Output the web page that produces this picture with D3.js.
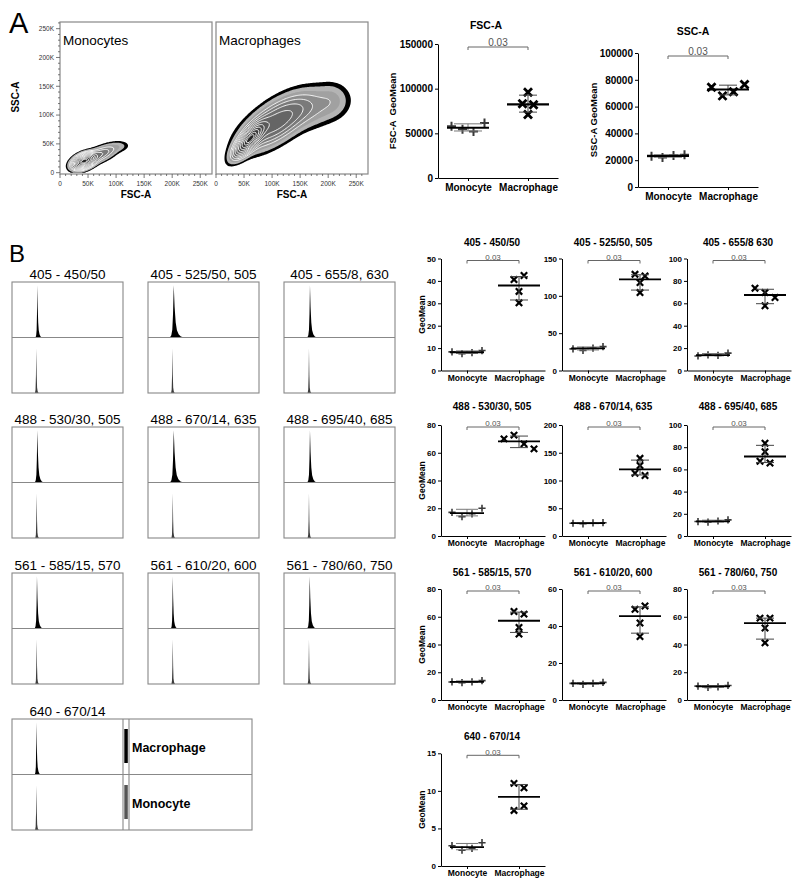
<!DOCTYPE html>
<html>
<head>
<meta charset="utf-8">
<script src="https://cdn.jsdelivr.net/npm/d3@7"></script>
<style>
body { margin: 0; background: #fff; }
svg { font-family: "Liberation Sans", Arial, sans-serif; }
</style>
</head>
<body>
<script>
(function(){

// ---------- data ----------
var groups = ["Monocyte", "Macrophage"];
var pValue = "0.03";

// panel A: geometric means of FSC / SSC, 4 donors per group
var fscMono  = [58000, 54500, 52000, 61500];
var fscMacro = [83000, 96000, 71000, 82000];
var sscMono  = [23000, 22000, 23500, 24000];
var sscMacro = [74500, 68000, 71000, 76500];

// panel A: density clusters
// [FSC (K), SSC (K), sd FSC, sd SSC, correlation, weight]
var monoClusters = [
    [43, 20, 10.5, 7, 0.4, 1],
    [72, 32, 16, 9, 0.6, 0.12],
    [105, 45, 12, 6, 0.2, 0.018]
];
var macroClusters = [
    [60, 58, 14, 15, 0.75, 1],
    [105, 86, 32, 24, 0.65, 0.25],
    [165, 112, 35, 20, 0.3, 0.06],
    [208, 126, 16, 17, 0, 0.022]
];
var contourLevels = [0.008, 0.016, 0.03, 0.05, 0.08, 0.12, 0.18, 0.26, 0.36, 0.48, 0.62, 0.78, 0.9];
var flowTicks = [0, 50000, 100000, 150000, 200000, 250000];

// panel B: channels
var histTitles = ["405 - 450/50", "405 - 525/50, 505", "405 - 655/8, 630",
                  "488 - 530/30, 505", "488 - 670/14, 635", "488 - 695/40, 685",
                  "561 - 585/15, 570", "561 - 610/20, 600", "561 - 780/60, 750",
                  "640 - 670/14"];
var dotTitles  = ["405 - 450/50", "405 - 525/50, 505", "405 - 655/8 630",
                  "488 - 530/30, 505", "488 - 670/14, 635", "488 - 695/40, 685",
                  "561 - 585/15, 570", "561 - 610/20, 600", "561 - 780/60, 750",
                  "640 - 670/14"];
var yMax  = [50, 150, 100, 80, 200, 100, 80, 60, 80, 15];
var yStep = [10, 50, 20, 20, 50, 20, 20, 20, 20, 5];

var monoGeo = [
    [8.3, 7.5, 8.0, 8.9],
    [29, 27, 30, 32],
    [13, 14, 13.5, 15.5],
    [17, 14, 16, 20],
    [23, 22, 23.5, 24],
    [13, 12.5, 13.5, 14.5],
    [13, 12.5, 13, 14],
    [9, 8.5, 9, 9.5],
    [10, 9, 9.5, 10.5],
    [2.7, 2.1, 2.35, 3.1]
];
var macroGeo = [
    [40.6, 42.4, 35.3, 30.2],
    [128.8, 126.5, 117.7, 104.4],
    [73.5, 69.6, 65.2, 57.8],
    [70, 72.7, 66.4, 62.8],
    [127, 140, 113, 109],
    [83.6, 75.9, 67.3, 65.8],
    [63.8, 61.9, 52.3, 47.5],
    [49, 50.8, 41.6, 34.3],
    [59, 59, 51.9, 41.2],
    [7.4, 8.0, 11, 10.4]
];

// panel B histograms: peak channel (% of axis) and peak spread
var macroPeak   = [22.8, 23.2, 23.4, 22.8, 23.2, 23.4, 22.5, 22.3, 23.2, 22.0];
var monoPeak    = [21.9, 22.0, 22.5, 22.2, 22.3, 22.5, 22.2, 22.3, 22.5, 22.0];
var macroSpread = [1.0, 2.2, 1.5, 1.4, 2.1, 1.5, 1.3, 1.0, 1.4, 0.9];
// normalised histogram profiles (% of mode)
var macroShapeOff = [-1.6, -1.0, -0.6, -0.3, 0, 0.35, 0.8, 1.3, 2.0, 2.9, 4.2];
var macroShapeH   = [0, 0.04, 0.14, 0.42, 0.94, 0.55, 0.27, 0.13, 0.06, 0.02, 0];
var monoShapeOff  = [-1.2, -0.7, -0.35, 0, 0.35, 0.7, 1.2, 2.0];
var monoShapeH    = [0, 0.06, 0.3, 0.8, 0.33, 0.1, 0.03, 0];


var FONT = "'Liberation Sans', Arial, sans-serif";

var svg = d3.select("body")
    .append("svg")
    .attr("width", 800)
    .attr("height", 886);

// panel letters
svg.append("text").attr("x", 9).attr("y", 33).attr("font-size", 29).text("A");
svg.append("text").attr("x", 9).attr("y", 262).attr("font-size", 24).text("B");


// ---------- panel A : contour plots ----------
function density(clusters, fx, fy){
    var s = 0;
    clusters.forEach(function(c){
        var dx = (fx - c[0]) / c[2], dy = (fy - c[1]) / c[3], r = c[4];
        var q = (dx * dx - 2 * r * dx * dy + dy * dy) / (1 - r * r);
        s += c[5] * Math.exp(-q / 2);
    });
    return s;
}

function flowPlot(x0, name, clusters, showY){
    var g = svg.append("g");
    var xS = d3.scaleLinear().domain([0, 271000]).range([x0, x0 + 152]);
    var yS = d3.scaleLinear().domain([-2300, 261600]).range([174, 22]);

    // density grid, 2K per cell
    var step = 2000, n = 136, m = 132;
    var grid = new Array(n * m);
    for (var j = 0; j < m; j++){
        for (var i = 0; i < n; i++){
            grid[i + j * n] = density(clusters, (i + 0.5) * step / 1000, (j + 0.5) * step / 1000);
        }
    }
    var peak = d3.max(grid);
    var bands = d3.contours()
        .size([n, m])
        .thresholds(contourLevels.map(function(l){ return l * peak; }))(grid);

    var proj = d3.geoTransform({
        point: function(gx, gy){ this.stream.point(xS(gx * step), yS(gy * step)); }
    });
    var path = d3.geoPath(proj);
    var shade = d3.scaleLinear()
        .domain([1, 4, contourLevels.length - 1])
        .range(["#b4b4b4", "#7a7a7a", "#242424"]);

    g.selectAll(".band")
        .data(bands)
        .enter()
        .append("path")
        .attr("class", "band")
        .attr("d", path)
        .attr("fill", function(d, k){ return k === 0 ? "#000" : shade(k); })
        .attr("stroke", function(d, k){ return k >= 3 ? "#fff" : "none"; })
        .attr("stroke-width", 0.9);

    // frame
    g.append("rect")
        .attr("x", x0).attr("y", 22)
        .attr("width", 152).attr("height", 152)
        .attr("fill", "none").attr("stroke", "#888").attr("stroke-width", 1.2);

    // x ticks (minor every 10K)
    var minor = d3.range(0, 260001, 10000);
    g.selectAll(".xt")
        .data(minor)
        .enter()
        .append("line")
        .attr("x1", function(d){ return xS(d); })
        .attr("x2", function(d){ return xS(d); })
        .attr("y1", 174)
        .attr("y2", function(d){ return 174 + (d % 50000 ? 2 : 4); })
        .attr("stroke", "#555").attr("stroke-width", 0.8);
    g.selectAll(".xl")
        .data(flowTicks)
        .enter()
        .append("text")
        .attr("x", function(d){ return xS(d); })
        .attr("y", 185.5)
        .attr("text-anchor", "middle")
        .attr("font-size", 6.5)
        .attr("fill", "#333")
        .text(function(d){ return d === 0 ? "0" : (d / 1000) + "K"; });

    if (showY){
        g.selectAll(".yt")
            .data(minor)
            .enter()
            .append("line")
            .attr("y1", function(d){ return yS(d); })
            .attr("y2", function(d){ return yS(d); })
            .attr("x1", x0)
            .attr("x2", function(d){ return x0 - (d % 50000 ? 2 : 4); })
            .attr("stroke", "#555").attr("stroke-width", 0.8);
        g.selectAll(".yl")
            .data(flowTicks)
            .enter()
            .append("text")
            .attr("x", x0 - 6)
            .attr("y", function(d){ return yS(d) + 2.3; })
            .attr("text-anchor", "end")
            .attr("font-size", 6.5)
            .attr("fill", "#333")
            .text(function(d){ return d === 0 ? "0" : (d / 1000) + "K"; });
        g.append("text")
            .attr("transform", "translate(19,97) rotate(-90)")
            .attr("text-anchor", "middle")
            .attr("font-size", 10).attr("font-weight", "bold")
            .text("SSC-A");
    }

    g.append("text")
        .attr("x", x0 + 76).attr("y", 198)
        .attr("text-anchor", "middle")
        .attr("font-size", 10).attr("font-weight", "bold")
        .text("FSC-A");
    g.append("text")
        .attr("x", x0 + 3).attr("y", 45)
        .attr("font-size", 13.5)
        .text(name);
}

flowPlot(60, "Monocytes", monoClusters, true);
flowPlot(216, "Macrophages", macroClusters, false);


// ---------- dot plots (median + interquartile range) ----------
function quart(sorted, p){
    var n = sorted.length, pos = (n + 1) * p - 1;
    if (pos <= 0) return sorted[0];
    if (pos >= n - 1) return sorted[n - 1];
    var lo = Math.floor(pos);
    return sorted[lo] + (pos - lo) * (sorted[lo + 1] - sorted[lo]);
}

// spread overlapping points sideways like Prism does
function jitter(vals, y, gap){
    var idx = vals.map(function(v, i){ return i; })
        .sort(function(a, b){ return vals[a] - vals[b]; });
    var clusters = [], cur = [idx[0]];
    for (var k = 1; k < idx.length; k++){
        if (Math.abs(y(vals[idx[k]]) - y(vals[idx[k - 1]])) < 6) cur.push(idx[k]);
        else { clusters.push(cur); cur = [idx[k]]; }
    }
    clusters.push(cur);
    var off = [];
    clusters.forEach(function(c){
        c.sort(d3.ascending);
        c.forEach(function(i, j){ off[i] = (j - (c.length - 1) / 2) * gap; });
    });
    return off;
}

function dotPlot(o){
    var g = svg.append("g");
    var y = d3.scaleLinear().domain([0, o.max]).range([o.bottom, o.top]);
    var x = d3.scalePoint().domain(groups).range([o.ax, o.ax + o.len]).padding(0.5);

    var yAxis = g.append("g")
        .attr("transform", "translate(" + o.ax + ",0)")
        .call(d3.axisLeft(y)
            .tickValues(d3.range(0, o.max + o.step / 2, o.step))
            .tickFormat(d3.format("d"))
            .tickSize(3).tickSizeOuter(0).tickPadding(2));
    yAxis.selectAll("text")
        .attr("font-size", o.tickFont).attr("font-weight", "bold")
        .attr("font-family", FONT).attr("fill", "#000");

    var xAxis = g.append("g")
        .attr("transform", "translate(0," + o.bottom + ")")
        .call(d3.axisBottom(x).tickSize(3).tickSizeOuter(0).tickPadding(o.xPad));
    xAxis.selectAll("text")
        .attr("font-size", o.labelFont).attr("font-weight", "bold")
        .attr("font-family", FONT).attr("fill", "#000");

    // title
    g.append("text")
        .attr("x", o.titleX).attr("y", o.titleY)
        .attr("text-anchor", "middle")
        .attr("font-size", o.titleFont).attr("font-weight", "bold")
        .text(o.title);

    if (o.yLabel){
        g.append("text")
            .attr("transform", "translate(" + o.yLabelX + "," + ((o.top + o.bottom) / 2) + ") rotate(-90)")
            .attr("text-anchor", "middle")
            .attr("dy", "0.35em")
            .attr("font-size", o.yLabelFont).attr("font-weight", "bold")
            .style("white-space", "pre")
            .text(o.yLabel);
    }

    // significance bracket
    var by = o.top + o.bracketGap;
    g.append("path")
        .attr("d", "M" + x(groups[0]) + "," + (by + 3) + "V" + by + "H" + x(groups[1]) + "V" + (by + 3))
        .attr("fill", "none").attr("stroke", "#666").attr("stroke-width", 1);
    g.append("text")
        .attr("x", (x(groups[0]) + x(groups[1])) / 2).attr("y", by - 0.8)
        .attr("text-anchor", "middle")
        .attr("font-size", o.pFont).attr("fill", "#555")
        .text(pValue);

    [o.mono, o.macro].forEach(function(vals, gi){
        var cx = x(groups[gi]);
        var sorted = vals.slice().sort(d3.ascending);
        var med = quart(sorted, 0.5), q1 = quart(sorted, 0.25), q3 = quart(sorted, 0.75);
        var off = jitter(vals, y, o.gap);
        var r = gi === 0 ? o.plusR : o.crossR;

        g.selectAll(".pt" + gi)
            .data(vals)
            .enter()
            .append("path")
            .attr("transform", function(d, i){ return "translate(" + (cx + off[i]) + "," + y(d) + ")"; })
            .attr("d", gi === 0
                ? "M" + (-r) + ",0H" + r + "M0," + (-r) + "V" + r
                : "M" + (-r) + "," + (-r) + "L" + r + "," + r + "M" + (-r) + "," + r + "L" + r + "," + (-r))
            .attr("fill", "none")
            .attr("stroke", gi === 0 ? "#3a3a3a" : "#000")
            .attr("stroke-width", gi === 0 ? o.plusW : o.crossW);

        var capW = gi === 0 ? o.monoCap : o.macroCap;
        var iqrCol = gi === 0 ? "#777" : "#444";
        g.append("path")
            .attr("d", "M" + cx + "," + y(q1) + "V" + y(q3) +
                       "M" + (cx - capW) + "," + y(q1) + "H" + (cx + capW) +
                       "M" + (cx - capW) + "," + y(q3) + "H" + (cx + capW))
            .attr("fill", "none").attr("stroke", iqrCol).attr("stroke-width", 1);

        var medW = gi === 0 ? o.monoMed : o.macroMed;
        g.append("line")
            .attr("x1", cx - medW).attr("x2", cx + medW)
            .attr("y1", y(med)).attr("y2", y(med))
            .attr("stroke", "#000").attr("stroke-width", o.medStroke);
    });
}

var bigStyle = {
    len: 120, tickFont: 10, labelFont: 10, titleFont: 10.5, yLabelFont: 9.5, pFont: 10,
    xPad: 2.4, gap: 11, plusR: 4.5, crossR: 4, plusW: 2, crossW: 2.8,
    monoCap: 14, macroCap: 9, monoMed: 21, macroMed: 21, medStroke: 2.2, bracketGap: 3
};
var smallStyle = {
    len: 104, tickFont: 8, labelFont: 8.5, titleFont: 10, yLabelFont: 8.5, pFont: 8,
    xPad: 1, gap: 10, plusR: 3.6, crossR: 3.2, plusW: 1.6, crossW: 2.2,
    monoCap: 11, macroCap: 9, monoMed: 17, macroMed: 21, medStroke: 1.8, bracketGap: 2
};

dotPlot(Object.assign({}, bigStyle, {
    ax: 438, top: 44, bottom: 178, max: 150000, step: 50000,
    title: "FSC-A", titleX: 486, titleY: 29,
    yLabel: "FSC-A  GeoMean", yLabelX: 393,
    mono: fscMono, macro: fscMacro
}));
dotPlot(Object.assign({}, bigStyle, {
    ax: 638, top: 53, bottom: 187, max: 100000, step: 20000,
    title: "SSC-A", titleX: 693, titleY: 35,
    yLabel: "SSC-A GeoMean", yLabelX: 594,
    mono: sscMono, macro: sscMacro
}));


// ---------- panel B ----------
var colAxis  = [441, 562, 687];
var rowTop   = [258.5, 425, 589, 753.3];
var rowBot   = [370.5, 536, 700, 866];
var rowTitle = [245.5, 410, 576, 739.5];

var histX    = [12, 148, 284];
var histTop  = [282, 427, 573, 719];

function histPanel(i, x0, top, boxW){
    var g = svg.append("g");
    var mid = top + 55.5, bot = top + 111;
    var x = d3.scaleLinear().domain([0, 100]).range([x0, x0 + 111]);
    var yTop = d3.scaleLinear().domain([0, 1]).range([mid, top]);
    var yBot = d3.scaleLinear().domain([0, 1]).range([bot, mid]);

    var macroPts = macroShapeOff.map(function(o, k){
        return { c: macroPeak[i] + o * macroSpread[i], h: macroShapeH[k] };
    });
    var monoPts = monoShapeOff.map(function(o, k){
        return { c: monoPeak[i] + o, h: monoShapeH[k] };
    });

    g.append("path")
        .attr("d", d3.area().x(function(d){ return x(d.c); }).y0(mid).y1(function(d){ return yTop(d.h); })(macroPts))
        .attr("fill", "#000");
    g.append("path")
        .attr("d", d3.area().x(function(d){ return x(d.c); }).y0(bot).y1(function(d){ return yBot(d.h); })(monoPts))
        .attr("fill", "#3c3c3c");

    g.append("rect")
        .attr("x", x0).attr("y", top)
        .attr("width", boxW).attr("height", 111)
        .attr("fill", "none").attr("stroke", "#888").attr("stroke-width", 1.1);
    g.append("line")
        .attr("x1", x0).attr("x2", x0 + boxW)
        .attr("y1", mid).attr("y2", mid)
        .attr("stroke", "#888").attr("stroke-width", 1.1);

    g.append("text")
        .attr("x", x0 + 55.5).attr("y", top - 3)
        .attr("text-anchor", "middle")
        .attr("font-size", 13.5)
        .text(histTitles[i]);
    return g;
}

histTitles.forEach(function(t, i){
    var row = Math.floor(i / 3), col = i % 3;
    var g = histPanel(i, histX[col], histTop[row], i === 9 ? 240 : 111);

    dotPlot(Object.assign({}, smallStyle, {
        ax: colAxis[col], top: rowTop[row], bottom: rowBot[row],
        max: yMax[i], step: yStep[i],
        title: dotTitles[i], titleX: colAxis[col] + 51, titleY: rowTitle[row],
        yLabel: col === 0 ? "GeoMean" : null, yLabelX: 422,
        mono: monoGeo[i], macro: macroGeo[i]
    }));

    if (i === 9){
        // legend strip inside the last histogram box
        var top = histTop[row];
        g.selectAll(".sep")
            .data([123, 129])
            .enter()
            .append("line")
            .attr("x1", function(d){ return d; }).attr("x2", function(d){ return d; })
            .attr("y1", top).attr("y2", top + 111)
            .attr("stroke", "#888").attr("stroke-width", 1.1);
        var legend = [groups[1], groups[0]];
        g.selectAll(".lg")
            .data(legend)
            .enter()
            .append("rect")
            .attr("x", 124.3).attr("width", 3.5)
            .attr("y", function(d, k){ return top + 10 + k * 56; })
            .attr("height", 34)
            .attr("fill", function(d, k){ return k === 0 ? "#000" : "#555"; });
        g.selectAll(".lt")
            .data(legend)
            .enter()
            .append("text")
            .attr("x", 132)
            .attr("y", function(d, k){ return top + 32.5 + k * 56; })
            .attr("font-size", 12.5).attr("font-weight", "bold")
            .text(function(d){ return d; });
    }
});

})();
</script>
</body>
</html>
